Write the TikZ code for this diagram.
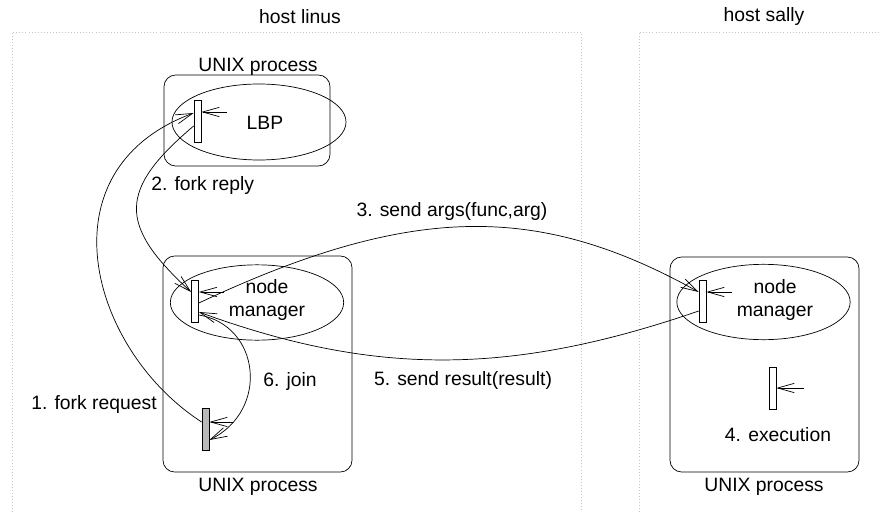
\documentclass[tikz,border=0pt]{standalone}
\usepackage{fontspec}
\setmainfont{Liberation Sans}
\usetikzlibrary{arrows.meta}
\usetikzlibrary{shapes.geometric}

\begin{document}
\begin{tikzpicture}[x=0.03cm, y=-0.03cm, line width=0.6pt,
    font=\fontsize{16.5}{20}\selectfont,
    proc/.style={draw, rounded corners=3.5mm, minimum width=5.67cm, minimum height=6.48cm},
    role/.style={draw, ellipse, inner sep=0pt, minimum width=5.2cm, minimum height=2.26cm},
    bar/.style={draw, fill=white, inner sep=0pt, minimum width=0.21cm, minimum height=1.26cm},
    msg/.style={-{Straight Barb[length=5mm, width=2.8mm]}},
    host/.style={dotted, gray!45}]
  \useasboundingbox (0,0) rectangle (880,512);

  \draw[host] (12,512) -- (12,32) -- (581,32) -- (581,512);
  \draw[host] (639,512) -- (639,32) -- (880,32);
  \node (linus) at (300,17) {host linus};
  \node (sally) at (764,17) {host sally};

  \node[proc, minimum width=4.98cm, minimum height=2.73cm] (lbpproc) at (247,120.5) {};
  \node[proc] (mainproc) at (257.5,364) {};
  \node[proc, minimum height=6.45cm] (remproc) at (764.5,364.5) {};
  \node (lbpproclbl) at (258,67) {UNIX process};
  \node (mainproclbl) at (258,487) {UNIX process};
  \node (remproclbl) at (764,487) {UNIX process};

  \node[role, minimum width=5.22cm, minimum height=2.28cm] (lbp) at (259,122) {};
  \node[role] (nmlinus) at (257,302.5) {};
  \node[role] (nmsally) at (763.5,302) {};
  \node (lbplbl) at (265,123) {LBP};
  \node[align=center] (nmlinuslbl) at (267,300) {node\\manager};
  \node[align=center] (nmsallylbl) at (775,300) {node\\manager};

  \node[bar] (lbpbar) at (197.5,121) {};
  \node[bar] (nmlinusbar) at (195,301) {};
  \node[bar] (nmsallybar) at (702.5,301.5) {};
  \node[bar, fill=gray!55] (forkbar) at (205.5,429.5) {};
  \node[bar] (execbar) at (772.5,388) {};

  \coordinate (lbpin) at (227,112);
  \coordinate (nmlinusin) at (224,292);
  \coordinate (nmsallyin) at (732,292);
  \coordinate (execin) at (804,388);
  \coordinate (forkin) at (233,422);
  \draw[msg] (lbpin) -- (lbpin -| lbpbar.east);
  \draw[msg] (nmlinusin) -- (nmlinusin -| nmlinusbar.east);
  \draw[msg] (nmsallyin) -- (nmsallyin -| nmsallybar.east);
  \draw[msg] (execin) -- (execin -| execbar.east);
  \draw[msg] (forkin) -- (forkin -| forkbar.east);

  \draw[msg] ([yshift=0.225cm]forkbar.west) .. controls (90,350) and (40,170) .. ([yshift=0.24cm]lbpbar.west);
  \draw[msg] ([yshift=-0.15cm]lbpbar.west) .. controls (118,190) and (118,225) .. ([yshift=0.27cm]nmlinusbar.west);
  \draw[msg] ([yshift=-0.06cm]nmlinusbar.east) .. controls (412,203) and (539,203) .. ([yshift=0.285cm]nmsallybar.west);
  \draw[msg] ([yshift=-0.285cm]nmsallybar.west) .. controls (510,376) and (374,376) .. ([yshift=-0.33cm]nmlinusbar.east);
  \draw[msg] ([yshift=-0.42cm]nmlinusbar.east) .. controls (260,325) and (270,410) .. ([yshift=-0.315cm]forkbar.east);

  \node (forkreq) at (94,404) {1. fork request};
  \node[anchor=west] (forkrep) at (147,186) {2. fork reply};
  \node (sendargs) at (452,212) {3. send args(func,arg)};
  \node (execlbl) at (778,435) {4. execution};
  \node (sendres) at (463,380) {5. send result(result)};
  \node[anchor=west] (joinlbl) at (259,381) {6. join};
\end{tikzpicture}
\end{document}
